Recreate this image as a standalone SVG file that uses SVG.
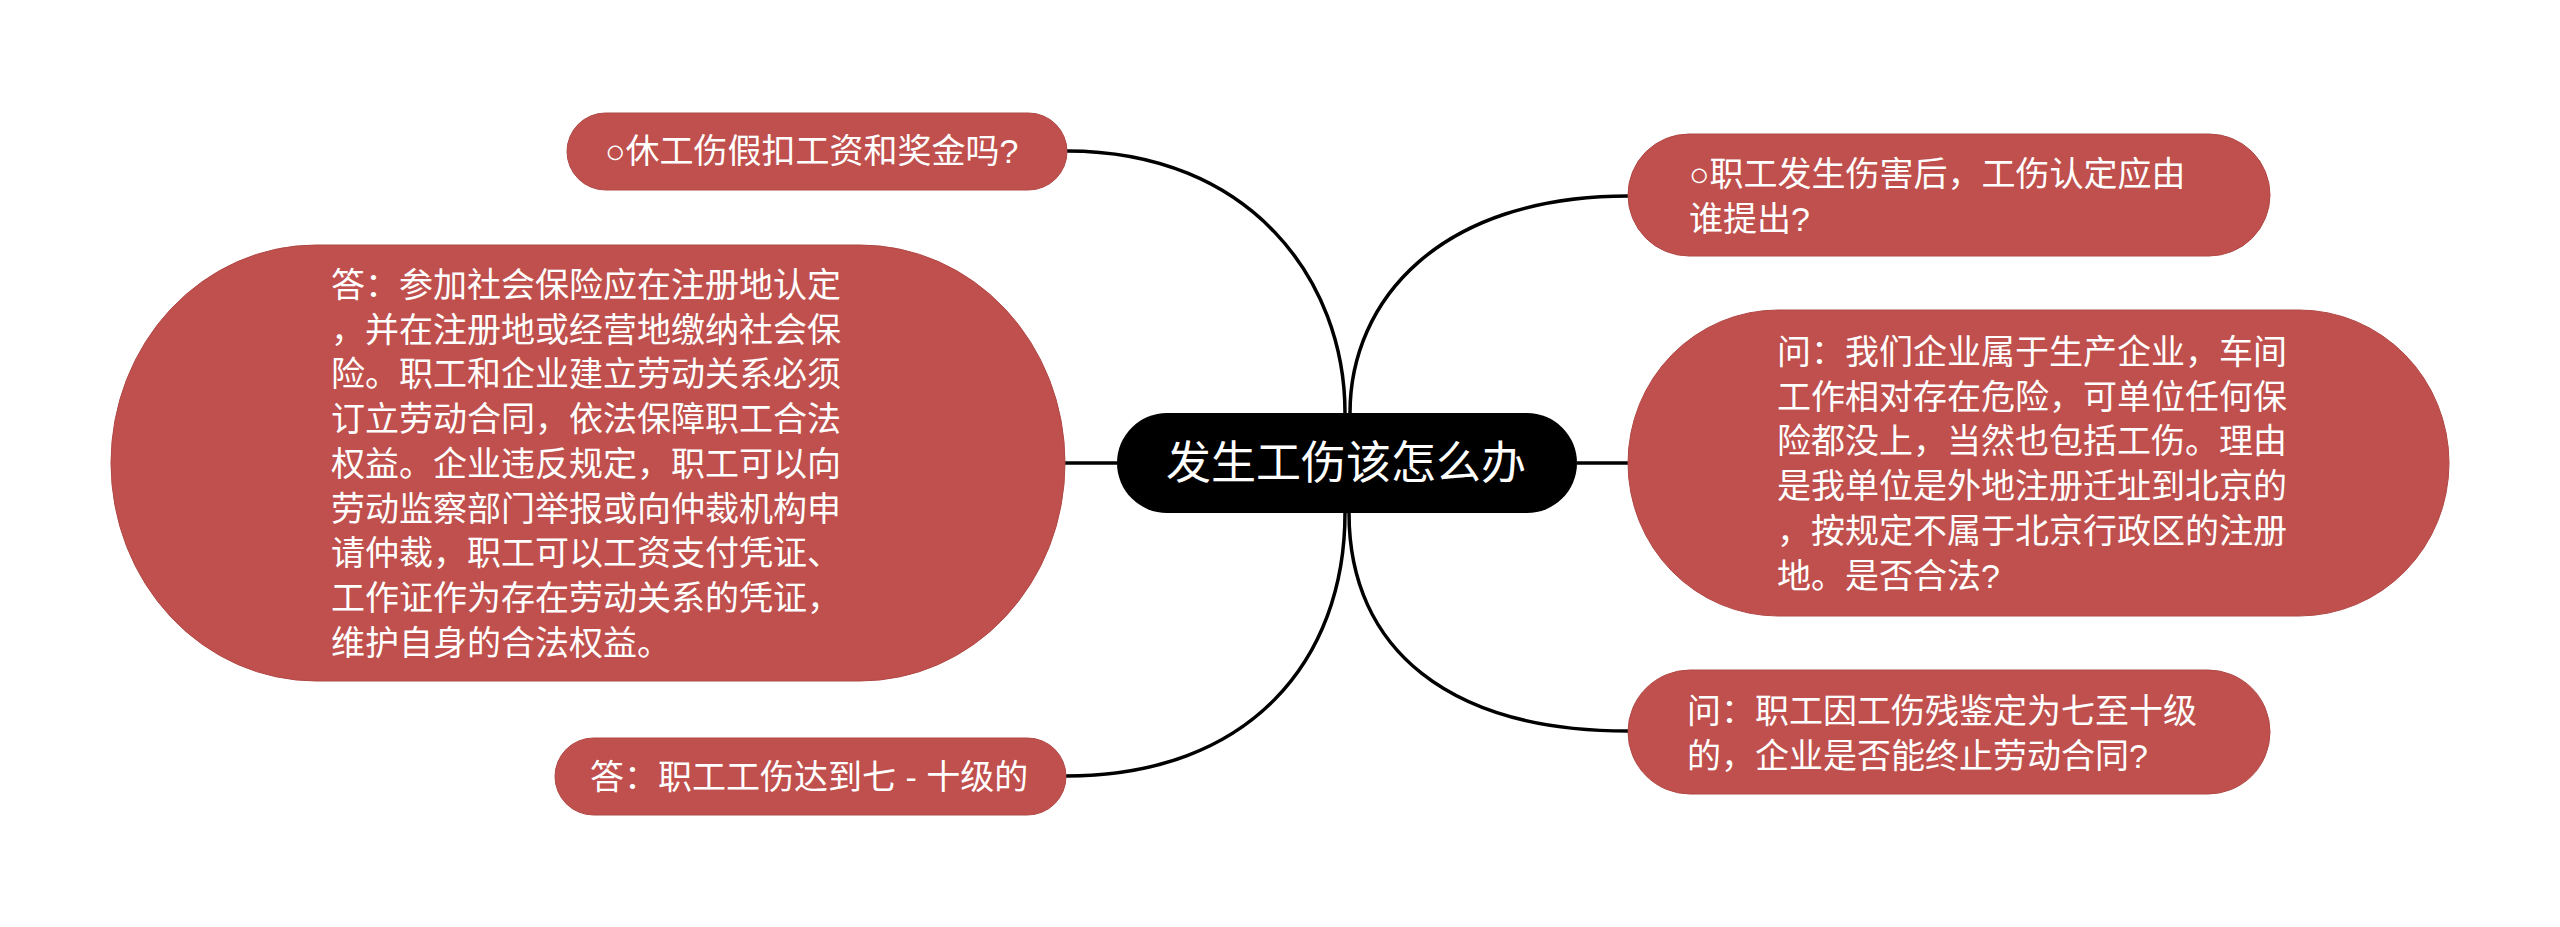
<svg xmlns="http://www.w3.org/2000/svg" width="2560" height="927" viewBox="0 0 2560 927">
<style>
.node{fill:#c0504d;stroke:#b04845;stroke-width:1}
.t{font-family:"Liberation Sans","Noto Sans CJK SC",sans-serif;font-size:34px;fill:#ffffff}
.center{font-family:"Liberation Sans","Noto Sans CJK SC",sans-serif;font-size:45px;fill:#ffffff}
.edge{fill:none;stroke:#000000;stroke-width:3.5}
</style>
<rect width="2560" height="927" fill="#ffffff"/>
<g id="connectors">
<path class="edge" d="M1067 151 C1250 151 1345 280 1345 413"/>
<path class="edge" d="M1628 196 C1440 196 1350 300 1350 413"/>
<path class="edge" d="M1065 463 L1117 463"/>
<path class="edge" d="M1577 463 L1628 463"/>
<path class="edge" d="M1066 776 C1250 776 1345 660 1345 513"/>
<path class="edge" d="M1628 731 C1450 731 1349 650 1349 513"/>
</g>
<g id="center">
<rect x="1117" y="413" width="460" height="100" rx="50" ry="50" fill="#000000"/>
<text class="center" x="1346" y="479" text-anchor="middle">发生工伤该怎么办</text>
</g>
<g id="node-left-top">
<rect class="node" x="567" y="113" width="500" height="77" rx="38.5" ry="38.5"/>
<text class="t" x="605" y="163">○休工伤假扣工资和奖金吗?</text>
</g>
<g id="node-left-big">
<rect class="node" x="111" y="245" width="954" height="436" rx="205" ry="218"/>
<text class="t">
<tspan x="331" y="297">答：参加社会保险应在注册地认定</tspan>
<tspan x="331" y="341.7">，并在注册地或经营地缴纳社会保</tspan>
<tspan x="331" y="386.4">险。职工和企业建立劳动关系必须</tspan>
<tspan x="331" y="431.1">订立劳动合同，依法保障职工合法</tspan>
<tspan x="331" y="475.8">权益。企业违反规定，职工可以向</tspan>
<tspan x="331" y="520.5">劳动监察部门举报或向仲裁机构申</tspan>
<tspan x="331" y="565.2">请仲裁，职工可以工资支付凭证、</tspan>
<tspan x="331" y="609.9">工作证作为存在劳动关系的凭证，</tspan>
<tspan x="331" y="654.6">维护自身的合法权益。</tspan>
</text>
</g>
<g id="node-left-bottom">
<rect class="node" x="555" y="738" width="511" height="77" rx="38.5" ry="38.5"/>
<text class="t" x="590" y="789">答：职工工伤达到七 - 十级的</text>
</g>
<g id="node-right-top">
<rect class="node" x="1628" y="134" width="642" height="122" rx="61" ry="61"/>
<text class="t">
<tspan x="1689" y="186">○职工发生伤害后，工伤认定应由</tspan>
<tspan x="1689" y="230.7">谁提出?</tspan>
</text>
</g>
<g id="node-right-big">
<rect class="node" x="1628" y="310" width="821" height="306" rx="150" ry="153"/>
<text class="t">
<tspan x="1777" y="364">问：我们企业属于生产企业，车间</tspan>
<tspan x="1777" y="408.7">工作相对存在危险，可单位任何保</tspan>
<tspan x="1777" y="453.4">险都没上，当然也包括工伤。理由</tspan>
<tspan x="1777" y="498.1">是我单位是外地注册迁址到北京的</tspan>
<tspan x="1777" y="542.8">，按规定不属于北京行政区的注册</tspan>
<tspan x="1777" y="587.5">地。是否合法?</tspan>
</text>
</g>
<g id="node-right-bottom">
<rect class="node" x="1628" y="670" width="642" height="124" rx="62" ry="62"/>
<text class="t">
<tspan x="1687" y="723">问：职工因工伤残鉴定为七至十级</tspan>
<tspan x="1687" y="767.7">的，企业是否能终止劳动合同?</tspan>
</text>
</g>
</svg>
